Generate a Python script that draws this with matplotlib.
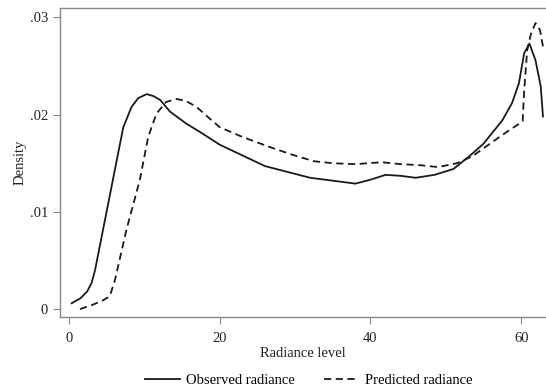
import matplotlib
matplotlib.use("Agg")
import matplotlib.pyplot as plt

obs_x = [0.35, 1.5, 2.4, 3.0, 3.45, 7.2, 8.3, 9.2, 10.3, 11.2, 12.1, 13.4, 15.5,
         17.4, 20, 23, 26, 29, 32, 35, 38, 40, 42, 44, 46, 48.5, 51, 53.1, 55,
         57.5, 58.8, 59.7, 60.4, 61.1, 61.9, 62.6, 62.9]
obs_y = [0.0006, 0.0011, 0.0018, 0.0027, 0.0040, 0.0187, 0.0208, 0.0217, 0.0221,
         0.0219, 0.0215, 0.0203, 0.0191, 0.0182, 0.0169, 0.0158, 0.0147, 0.0141,
         0.0135, 0.0132, 0.0129, 0.0133, 0.0138, 0.0137, 0.0135, 0.0138, 0.0144,
         0.0157, 0.0170, 0.0194, 0.0212, 0.0232, 0.0263, 0.0273, 0.0256, 0.0229,
         0.0198]

pred_x = [1.45, 3.0, 4.5, 5.4, 6.1, 7.6, 9.4, 10.5, 11.6, 12.9, 14.3, 15.5, 16.9,
          18.5, 20, 23, 26.5, 29.5, 32.5, 35, 38, 41.5, 44, 46.5, 49, 51.5, 53.5,
          55.5, 57.5, 60.2, 60.4, 60.8, 61.3, 61.9, 62.5, 62.9]
pred_y = [0.0000, 0.0004, 0.0009, 0.0013, 0.0030, 0.0081, 0.0133, 0.0177, 0.0201,
          0.0213, 0.0216, 0.0214, 0.0208, 0.0197, 0.0187, 0.0177, 0.0167, 0.0159,
          0.0152, 0.0150, 0.0149, 0.0151, 0.0149, 0.0148, 0.0146, 0.0150, 0.0157,
          0.0168, 0.0179, 0.0193, 0.0224, 0.0266, 0.0283, 0.0294, 0.0287, 0.0270]

x_ticks = [0, 20, 40, 60]
y_ticks = [0, 0.01, 0.02, 0.03]
y_tick_labels = ['0', '.01', '.02', '.03']

plt.rcParams['font.family'] = ['Liberation Serif', 'DejaVu Serif']

fig = plt.figure(figsize=(5.46, 3.89), dpi=100)
ax = fig.add_axes([0.1099, 0.185, 0.8901, 0.794])

ax.plot(obs_x, obs_y, color='#1a1a1a', lw=1.3, label='Observed radiance')
ax.plot(pred_x, pred_y, color='#1a1a1a', lw=1.3, ls=(0, (4, 2.5)), label='Predicted radiance')

ax.set_xlim(-1.2, 63.3)
ax.set_ylim(-0.00082, 0.03094)
ax.set_xticks(x_ticks)
ax.set_yticks(y_ticks)
ax.set_yticklabels(y_tick_labels)
ax.tick_params(colors='#888888', labelcolor='#222222', labelsize=10.5, length=5, direction='out')
ax.tick_params(axis='x', pad=6)
for s in ax.spines.values():
    s.set_color('#888888')
    s.set_linewidth(1.0)
ax.spines['right'].set_visible(False)

ax.set_xlabel('Radiance level', fontsize=10.5, color='#222222', labelpad=1)
ax.set_ylabel('Density', fontsize=10.5, color='#222222', labelpad=2.5)

fig.legend(loc='center', bbox_to_anchor=(0.566, 0.023), ncol=2, frameon=False,
           fontsize=10.5, handlelength=2.4, columnspacing=2.0, handletextpad=0.4)

fig.savefig('out.png', dpi=100)
